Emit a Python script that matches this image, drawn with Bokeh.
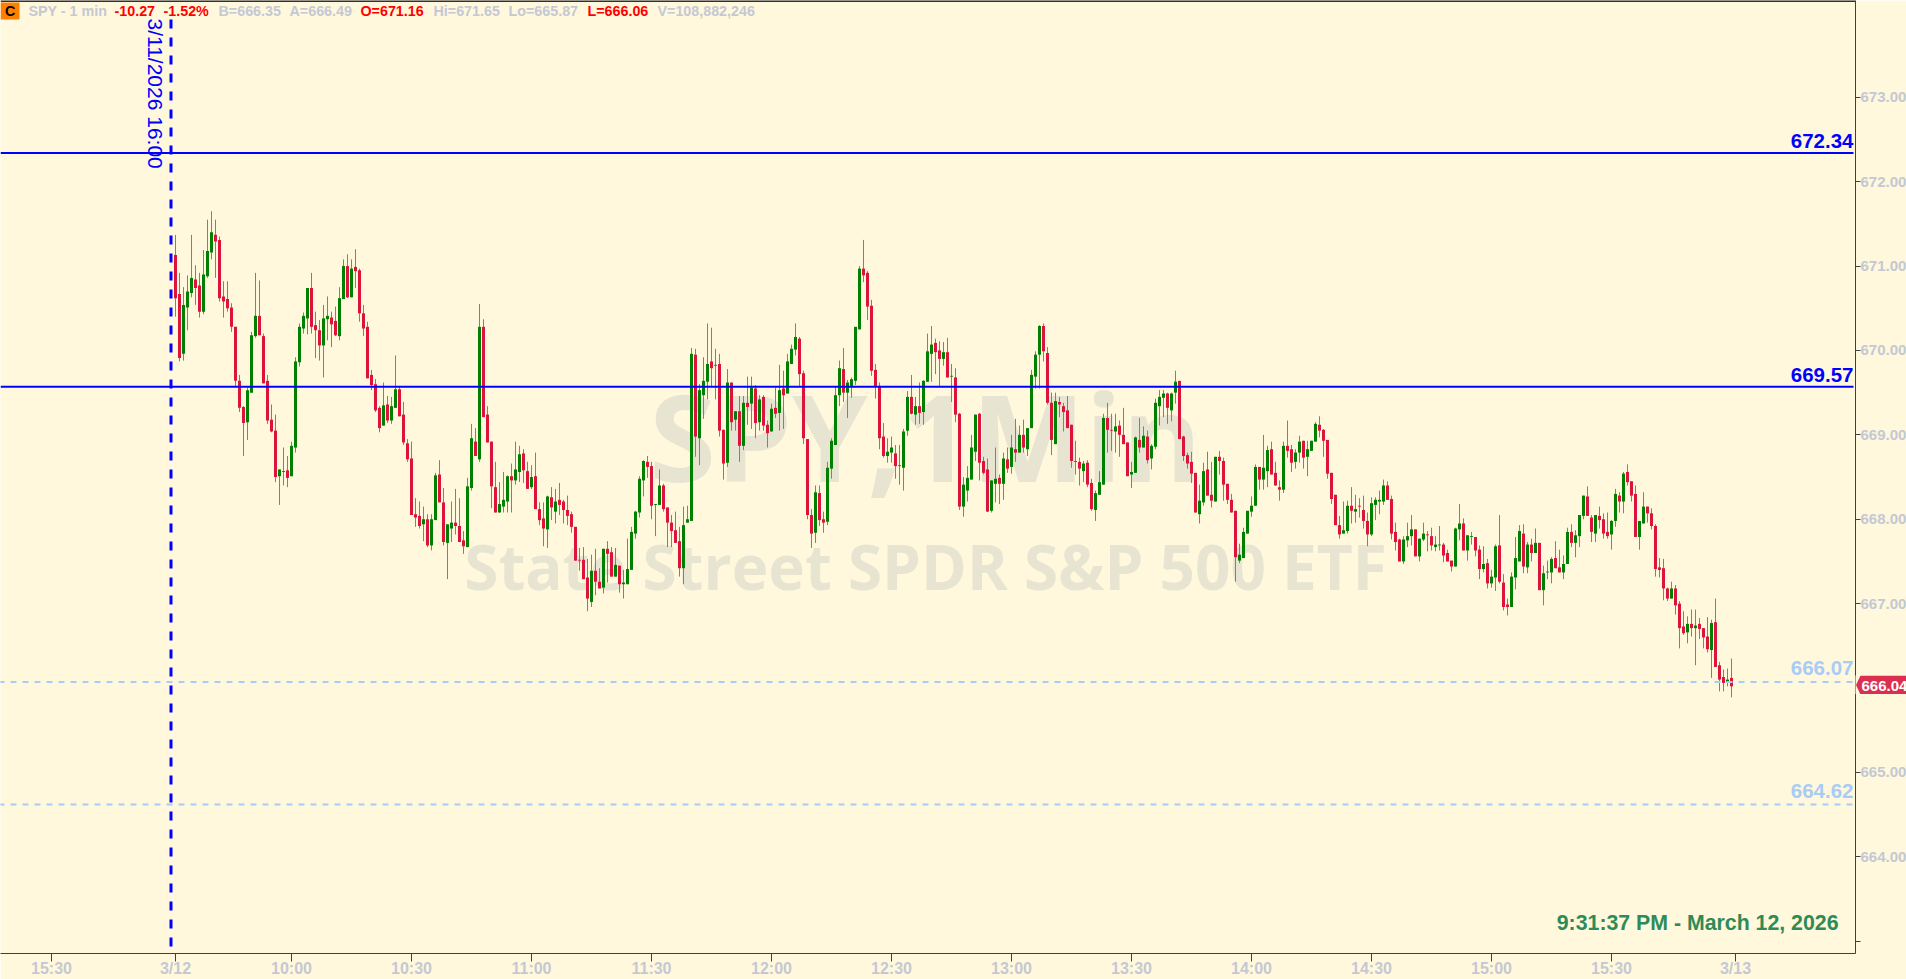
from math import pi
from bokeh.plotting import figure
from bokeh.layouts import column
from bokeh.core.properties import value
from bokeh.models import (ColumnDataSource, Range1d, FixedTicker, Label, BoxAnnotation, Span)
from bokeh.embed import file_html
from bokeh.resources import INLINE

# ---------- data ----------
opens = [
671.13,670.67,669.96,670.51,670.68,670.84,670.77,670.46,670.88,671.16,
671.37,671.31,670.64,670.61,670.51,670.28,669.64,669.33,669.15,669.50,
670.17,670.41,670.17,669.64,669.18,669.05,668.51,668.56,668.58,668.51,
668.85,669.86,670.26,670.38,670.74,670.30,670.24,670.06,670.37,670.39,
670.35,670.17,670.61,671.00,670.63,670.99,670.95,670.44,670.28,669.71,
669.60,669.32,669.11,669.36,669.17,669.32,669.54,669.24,668.90,668.72,
668.06,668.04,667.94,668.00,667.69,667.99,668.53,668.20,667.72,667.89,
667.96,667.92,667.75,667.67,668.37,668.92,668.71,670.28,669.24,668.92,
668.38,668.08,668.15,668.21,668.51,668.46,668.56,668.78,668.57,668.38,
668.51,668.12,668.01,667.88,668.26,668.09,668.23,668.21,668.11,668.06,
667.91,667.52,667.52,667.31,667.02,667.39,667.26,667.19,667.65,667.61,
667.32,667.45,667.23,667.23,667.40,667.83,668.08,668.46,668.68,668.63,
668.17,668.17,668.40,668.14,667.96,667.87,667.74,667.42,667.96,667.98,
669.95,668.96,669.47,669.63,669.87,669.82,669.84,669.06,668.67,669.62,
669.18,669.28,668.87,669.38,669.37,669.55,669.15,669.45,669.12,669.04,
669.32,669.26,669.55,669.49,669.84,670.01,670.14,669.73,668.95,668.05,
667.84,668.31,668.00,667.97,668.60,668.88,669.47,669.78,669.50,669.58,
669.64,670.25,670.97,670.92,670.53,669.77,669.58,668.98,668.75,668.79,
668.78,668.64,668.61,669.05,669.45,669.24,669.34,669.27,669.63,669.96,
670.09,670.00,669.90,669.98,669.69,669.68,669.25,668.15,668.34,668.47,
668.80,669.25,668.69,668.59,668.10,668.42,668.49,668.42,668.71,668.62,
668.83,668.79,669.00,668.83,669.08,669.69,669.95,670.29,669.97,669.38,
668.89,669.39,669.34,669.29,669.12,668.69,668.68,668.57,668.67,668.43,
668.11,668.29,668.41,669.20,669.06,669.04,669.11,669.00,668.91,668.53,
668.55,668.94,668.85,668.98,668.72,668.86,669.34,669.44,669.49,669.29,
669.50,669.64,668.98,668.76,668.68,668.55,668.06,668.20,668.59,668.29,
668.21,668.74,668.69,668.42,668.23,668.10,667.51,667.54,667.83,668.09,
668.16,668.62,668.47,668.57,668.83,668.55,668.38,668.35,668.87,668.83,
668.68,668.79,668.93,668.74,668.81,668.92,669.12,669.06,668.94,668.55,
668.29,667.93,667.83,667.86,668.16,668.09,668.16,668.11,667.98,667.82,
668.17,668.21,668.21,668.40,668.24,667.85,667.76,667.50,667.75,667.80,
667.88,667.56,667.76,667.82,667.80,667.67,667.69,667.70,667.60,667.51,
667.44,667.88,667.95,667.63,667.79,667.79,667.64,667.41,667.48,667.24,
667.31,667.69,667.25,666.99,666.96,667.31,667.50,667.83,667.43,667.70,
667.60,667.72,667.16,667.37,667.37,667.54,667.43,667.37,667.47,667.85,
667.72,667.80,668.04,668.27,668.02,667.83,668.04,668.00,667.85,667.82,
667.98,668.28,668.21,668.56,668.45,668.30,667.79,667.95,668.15,668.07,
667.92,667.43,667.42,667.18,667.06,667.18,667.00,666.73,666.66,666.76,
666.71,666.76,666.71,666.61,666.45,666.78,666.27,666.13,666.07,666.12]

highs = [
671.37,670.92,670.75,670.89,671.37,671.01,670.92,671.19,671.55,671.65,
671.55,671.35,670.82,670.82,670.56,670.28,669.71,669.34,669.56,670.22,
670.92,670.83,670.20,669.71,669.36,669.24,668.59,668.85,668.75,668.92,
669.92,670.32,670.45,670.74,670.92,670.46,670.36,670.54,670.64,670.46,
670.52,670.75,671.08,671.14,671.08,671.20,670.97,670.54,670.34,669.77,
669.66,669.34,669.62,669.46,669.45,669.94,669.58,669.39,668.95,668.92,
668.25,668.21,668.15,668.06,668.06,668.55,668.70,668.37,667.94,668.21,
668.36,668.25,667.86,668.49,669.13,669.08,670.55,670.37,669.34,668.92,
668.68,668.44,668.56,668.52,668.66,668.92,668.87,668.83,668.68,668.64,
668.79,668.20,668.20,668.28,668.38,668.36,668.43,668.23,668.28,668.09,
667.91,667.66,667.67,667.53,667.58,667.65,667.42,667.65,667.74,667.67,
667.66,667.45,667.40,667.77,667.91,668.10,668.51,668.70,668.75,668.68,
668.18,668.59,668.42,668.14,668.05,668.09,667.91,668.15,668.16,670.03,
670.02,669.60,669.92,670.32,670.27,670.02,669.96,669.06,669.78,669.62,
669.28,669.46,669.46,669.69,669.69,669.59,669.47,669.47,669.17,669.37,
669.56,669.83,669.76,669.96,670.07,670.32,670.16,669.76,668.95,668.12,
668.40,668.40,668.09,668.68,668.96,669.57,669.88,670.03,669.65,669.68,
670.28,671.00,671.31,670.94,670.60,669.84,669.62,669.14,668.96,668.98,
668.88,668.88,669.07,669.52,669.71,669.45,669.62,669.65,670.20,670.29,
670.14,670.11,670.10,670.15,669.84,669.79,669.26,668.50,668.63,669.00,
669.24,669.26,668.74,668.72,668.46,668.85,668.53,668.79,668.85,669.00,
669.19,669.11,669.18,669.08,669.77,669.99,670.30,670.32,670.04,669.50,
669.50,669.45,669.38,669.46,669.12,668.93,668.73,668.69,668.70,668.48,
668.34,668.57,669.25,669.38,669.25,669.25,669.17,669.32,668.91,668.68,
668.98,669.20,669.10,669.05,668.89,669.43,669.53,669.53,669.50,669.50,
669.76,669.64,668.99,668.79,668.80,668.55,668.41,668.67,668.80,668.68,
668.74,668.81,668.73,668.42,668.30,668.10,667.71,667.90,668.10,668.27,
668.65,668.62,669.00,668.87,668.92,668.68,668.46,668.92,669.17,668.88,
668.83,668.99,668.93,668.93,668.93,669.15,669.22,669.07,668.94,668.55,
668.29,668.04,668.21,668.22,668.38,668.29,668.25,668.28,668.08,668.26,
668.26,668.34,668.47,668.45,668.28,667.96,667.77,667.80,667.96,668.05,
667.88,667.77,667.96,667.86,667.90,667.80,667.92,667.72,667.64,667.51,
667.90,668.18,668.01,667.81,667.85,667.79,667.69,667.68,667.53,667.40,
667.70,668.05,667.35,667.06,667.37,667.79,667.93,667.94,667.73,667.77,
667.89,667.72,667.45,667.51,667.55,667.74,667.64,667.57,667.90,667.94,
667.87,668.05,668.28,668.39,668.05,668.05,668.15,668.07,668.08,667.99,
668.36,668.32,668.56,668.65,668.45,668.40,667.98,668.32,668.15,668.13,
667.94,667.54,667.53,667.19,667.26,667.22,667.03,666.91,666.85,666.93,
666.93,666.83,666.71,666.84,666.81,667.06,666.31,666.22,666.23,666.35]

lows = [
670.40,669.87,669.88,670.24,670.63,670.54,670.39,670.43,670.86,671.08,
670.86,670.58,670.39,670.46,670.22,669.58,669.27,668.75,668.94,669.50,
670.15,670.18,669.61,669.13,669.03,668.44,668.17,668.40,668.38,668.51,
668.79,669.81,670.20,670.19,670.20,669.91,669.88,669.68,670.12,670.04,
670.17,670.12,670.61,670.62,670.63,670.74,670.34,670.17,669.67,669.53,
669.27,669.03,669.11,669.14,669.13,669.32,669.22,668.88,668.68,668.05,
667.91,667.89,667.74,667.67,667.63,667.99,668.20,667.69,667.29,667.73,
667.82,667.73,667.59,667.67,668.34,668.75,668.68,669.21,668.91,668.13,
668.08,668.08,668.08,668.08,668.08,668.41,668.44,668.43,668.36,668.36,
668.12,667.93,667.68,667.66,667.99,667.95,668.05,667.95,667.93,667.84,
667.51,667.39,667.29,666.91,666.96,667.10,667.18,667.12,667.25,667.32,
667.32,667.13,667.06,667.23,667.40,667.77,668.02,668.27,668.49,668.00,
667.80,668.17,668.09,667.67,667.67,667.72,667.32,667.23,667.96,667.98,
668.74,668.64,669.19,669.42,669.57,669.42,668.98,668.47,668.62,669.05,
669.05,668.68,668.82,669.12,669.07,668.96,669.05,669.05,668.85,669.04,
669.20,669.05,669.07,669.49,669.84,669.94,669.58,668.89,668.00,667.66,
667.72,667.92,667.84,667.93,668.48,668.88,669.34,669.39,669.20,669.44,
669.59,670.25,670.81,670.36,669.70,669.43,668.83,668.73,668.67,668.67,
668.48,668.41,668.34,668.99,669.24,669.12,669.13,669.12,669.63,669.63,
669.72,669.58,669.82,669.68,669.39,669.15,668.11,668.03,668.21,668.47,
668.69,668.46,668.53,668.09,668.08,668.20,668.18,668.23,668.55,668.54,
668.68,668.79,668.79,668.75,669.08,669.55,669.55,669.87,669.36,668.76,
668.89,669.21,669.04,669.08,668.61,668.53,668.40,668.44,668.38,668.10,
667.98,668.29,668.41,668.79,668.81,668.79,668.74,668.89,668.51,668.37,
668.55,668.79,668.85,668.66,668.59,668.83,669.11,669.21,669.13,669.16,
669.37,668.95,668.69,668.60,668.43,668.08,667.95,668.16,668.28,668.14,
668.21,668.53,668.22,668.18,668.08,667.26,667.48,667.54,667.83,668.03,
668.16,668.35,668.35,668.38,668.53,668.40,668.22,668.31,668.73,668.56,
668.60,668.67,668.60,668.51,668.81,668.92,668.97,668.74,668.48,668.18,
667.93,667.77,667.83,667.83,667.95,667.96,668.02,667.89,667.68,667.80,
667.99,668.06,668.17,668.23,667.76,667.63,667.50,667.47,667.67,667.69,
667.56,667.50,667.74,667.62,667.63,667.62,667.63,667.49,667.50,667.38,
667.44,667.75,667.63,667.51,667.70,667.56,667.29,667.37,667.18,667.19,
667.15,667.24,666.92,666.86,666.96,667.17,667.50,667.36,667.36,667.50,
667.60,667.16,666.98,667.29,667.24,667.42,667.37,667.29,667.47,667.67,
667.55,667.67,668.00,668.04,667.73,667.73,667.89,667.77,667.77,667.64,
667.91,668.08,668.07,668.40,668.21,667.79,667.64,667.95,667.96,667.88,
667.32,667.31,667.04,667.03,667.06,666.87,666.47,666.63,666.53,666.61,
666.27,666.58,666.47,666.42,666.12,666.25,665.96,665.96,666.02,665.89]

closes = [
670.62,669.91,670.54,670.70,670.86,670.74,670.46,670.90,671.18,671.40,
671.29,670.62,670.58,670.50,670.28,669.64,669.32,669.14,669.53,670.18,
670.41,670.18,669.61,669.17,669.04,668.50,668.59,668.57,668.49,668.87,
669.87,670.28,670.41,670.74,670.28,670.24,670.06,670.38,670.41,670.31,
670.18,670.62,671.00,670.63,670.97,670.94,670.44,670.26,669.67,669.59,
669.29,669.08,669.35,669.17,669.34,669.54,669.22,668.91,668.71,668.05,
668.02,667.92,668.00,667.69,668.00,668.52,668.20,667.73,667.94,667.96,
667.92,667.73,667.68,668.39,668.96,668.75,670.28,669.21,668.91,668.39,
668.08,668.18,668.23,668.51,668.46,668.59,668.77,668.58,668.36,668.50,
668.12,667.99,667.89,668.27,668.14,668.21,668.17,668.11,668.04,667.91,
667.51,667.51,667.29,667.06,667.39,667.26,667.18,667.65,667.59,667.32,
667.46,667.23,667.25,667.41,667.85,668.09,668.48,668.69,668.62,668.16,
668.18,668.40,668.12,667.96,667.86,667.72,667.42,667.93,668.00,669.96,
668.98,669.53,669.64,669.84,669.79,669.83,669.05,668.66,669.62,669.15,
669.28,668.87,669.38,669.33,669.56,669.14,669.42,669.11,669.02,669.31,
669.25,669.53,669.47,669.87,670.02,670.16,669.72,668.96,668.05,667.83,
668.32,667.99,667.96,668.61,668.93,669.47,669.79,669.50,669.62,669.66,
670.28,670.97,670.89,670.52,669.76,669.57,668.96,668.75,668.80,668.85,
668.63,668.63,669.04,669.45,669.25,669.34,669.26,669.64,669.99,670.07,
669.98,669.90,669.98,669.68,669.70,669.24,668.15,668.41,668.49,668.85,
669.24,668.67,668.55,668.09,668.46,668.48,668.42,668.72,668.60,668.85,
668.79,669.00,668.85,669.08,669.71,669.95,670.29,669.99,669.38,668.94,
669.40,669.36,669.27,669.08,668.69,668.68,668.60,668.66,668.41,668.12,
668.31,668.44,669.20,669.06,669.05,669.10,669.00,668.89,668.51,668.56,
668.97,668.85,668.99,668.70,668.87,669.38,669.45,669.49,669.32,669.49,
669.63,668.95,668.75,668.66,668.54,668.08,668.22,668.57,668.28,668.22,
668.74,668.69,668.41,668.23,668.08,667.55,667.58,667.85,668.10,668.16,
668.62,668.47,668.61,668.82,668.53,668.40,668.35,668.87,668.81,668.67,
668.79,668.92,668.73,668.83,668.93,669.13,669.05,668.93,668.54,668.24,
667.93,667.82,667.87,668.16,668.10,668.12,668.15,667.98,667.82,668.19,
668.23,668.23,668.40,668.23,667.83,667.73,667.50,667.76,667.80,667.88,
667.56,667.77,667.83,667.81,667.69,667.70,667.70,667.57,667.50,667.44,
667.89,667.95,667.63,667.81,667.80,667.63,667.41,667.47,667.24,667.32,
667.68,667.26,666.96,666.96,667.32,667.54,667.86,667.44,667.70,667.60,
667.72,667.16,667.36,667.38,667.53,667.42,667.37,667.47,667.85,667.72,
667.81,668.05,668.28,668.04,667.85,668.05,667.99,667.83,667.80,667.98,
668.30,668.21,668.54,668.44,668.28,667.79,667.98,668.15,668.07,667.92,
667.41,667.40,667.18,667.06,667.18,666.98,666.71,666.65,666.76,666.71,
666.74,666.70,666.60,666.46,666.77,666.25,666.10,666.06,666.10,666.02]

time_ticks = [-31, 0, 29, 59, 89, 119, 149, 179, 209, 239, 269, 299, 329, 359, 390]
time_labels = ["15:30", "3/12", "10:00", "10:30", "11:00", "11:30", "12:00", "12:30",
               "13:00", "13:30", "14:00", "14:30", "15:00", "15:30", "3/13"]
price_ticks = [663, 664, 665, 666, 667, 668, 669, 670, 671, 672, 673]
price_labels = ["", "664.00", "665.00", "", "667.00", "668.00", "669.00", "670.00",
                "671.00", "672.00", "673.00"]
solid_levels = [672.34, 669.57]
dashed_levels = [666.07, 664.62]
last_price = 666.04

# ---------- layout ----------
FW, FH = 1855, 953
PX_PER_BAR, PX_PER_USD = 4.0, 84.39
X0 = -175.0 / PX_PER_BAR
Y_TOP = 673 + 96.8 / PX_PER_USD
def dx(px): return X0 + px / PX_PER_BAR
def dy(py): return Y_TOP - py / PX_PER_USD
X1, Y_BOT = dx(FW), dy(FH)

BG, GREY, LEVEL_LIGHT = "#fff8dc", "#c4c8d4", "#a8ccf6"
FONT = "Liberation Sans"

p = figure(frame_width=FW, frame_height=FH, output_backend="svg", toolbar_location=None,
           x_range=Range1d(X0, X1), y_range=Range1d(Y_BOT, Y_TOP), y_axis_location="right",
           background_fill_color=BG, border_fill_color=BG, outline_line_color=None,
           min_border=0)
p.grid.visible = False

ax = p.xaxis[0]
ax.ticker = FixedTicker(ticks=time_ticks)
ax.major_label_overrides = dict(zip(time_ticks, time_labels))
ay = p.yaxis[0]
ay.ticker = FixedTicker(ticks=price_ticks)
ay.major_label_overrides = dict(zip(price_ticks, price_labels))
for a, tick, size, standoff in ((ax, 8, "16px", -2), (ay, 5, "15px", 0)):
    a.axis_line_color = a.major_tick_line_color = "#404040"
    a.axis_line_width = 1
    a.major_tick_out, a.major_tick_in = tick, 0
    a.minor_tick_line_color = None
    a.major_label_text_font = FONT
    a.major_label_text_font_style = "bold"
    a.major_label_text_font_size = size
    a.major_label_text_color = GREY
    a.major_label_standoff = standoff

# ---------- watermark ----------
for text, size, base in (("SPY,1Min", "121px", 434), ("State Street SPDR S&P 500 ETF", "62px", 565)):
    p.add_layout(Label(x=dx(925), y=dy(base), text=text, text_font="Open Sans", text_font_style="bold",
                       text_font_size=size, text_color="#e8e4d2", text_align="center",
                       text_baseline="alphabetic", level="underlay"))

# ---------- candles ----------
idx = list(range(len(opens)))
src = ColumnDataSource(dict(
    x=idx, o=opens, h=highs, l=lows, c=closes,
    top=[max(a, b) for a, b in zip(opens, closes)],
    bottom=[min(a, b) for a, b in zip(opens, closes)],
    color=["#008000" if b >= a else "#dc143c" for a, b in zip(opens, closes)]))
p.segment("x", "h", "x", "l", source=src, line_color="#808080", line_width=1)
p.vbar("x", width=0.75, top="top", bottom="bottom", source=src, fill_color="color", line_color=None)

# ---------- levels ----------
for lv in solid_levels:
    p.segment([X0], [lv], [dx(1853)], [lv], line_color="#0000ff", line_width=2)
    p.add_layout(Label(x=dx(1853), y=lv, y_offset=12.2, text=f"{lv:.2f}", text_font=FONT, text_font_style="bold",
                       text_font_size="20.5px", text_color="#0000ff", text_align="right",
                       text_baseline="alphabetic"))
for lv in dashed_levels:
    p.segment([dx(-2)], [lv], [dx(1853)], [lv], line_color=LEVEL_LIGHT, line_width=2, line_dash="6 6")
    p.add_layout(Label(x=dx(1853), y=lv, y_offset=13.7, text=f"{lv:.2f}", text_font=FONT, text_font_style="bold",
                       text_font_size="20.5px", text_color=LEVEL_LIGHT, text_align="right",
                       text_baseline="alphabetic"))

p.segment([dx(170.5)], [dy(19)], [dx(170.5)], [Y_BOT], line_color="#0000ff", line_width=3, line_dash="9 9")
p.add_layout(Label(x=dx(155), y=dy(18), text="3/11/2026 16:00", text_font=FONT, text_font_size="21px",
                   text_color="#0000ff", angle=-pi / 2, text_align="left", text_baseline="alphabetic"))

# ---------- header ----------
p.add_layout(Span(location=dy(0.5), dimension="width", line_color="#303030", line_width=2))
p.add_layout(BoxAnnotation(left=dx(0), right=dx(19), top=dy(2), bottom=dy(19),
                           fill_color="#ff8000", fill_alpha=1, line_color=None))
header = [(4.5, "C", "#000000"), (28, "SPY - 1 min", GREY), (114, "-10.27", "#ff0000"), (163, "-1.52%", "#ff0000"),
          (218, "B=666.35", GREY), (289, "A=666.49", GREY), (360, "O=671.16", "#ff0000"),
          (433, "Hi=671.65", GREY), (508, "Lo=665.87", GREY), (587, "L=666.06", "#ff0000"),
          (657, "V=108,882,246", GREY)]
for xp, text, col in header:
    p.add_layout(Label(x=dx(xp), y=dy(10), text=text, text_font=FONT, text_font_style="bold",
                       text_font_size="14.3px", text_color=col, text_align="left", text_baseline="middle"))

p.add_layout(Label(x=dx(1838), y=dy(922), text="9:31:37 PM - March 12, 2026", text_font=FONT,
                   text_font_style="bold", text_font_size="21.3px", text_color="#2e8b57",
                   text_align="right", text_baseline="alphabetic"))

# ---------- last-price tag: a small figure laid over the axis panel ----------
tag = figure(frame_width=51, frame_height=19, output_backend="svg", toolbar_location=None,
             x_range=Range1d(0, 51), y_range=Range1d(0, 19), x_axis_type=None, y_axis_type=None,
             background_fill_color=BG, border_fill_color=BG, outline_line_color=None, min_border=0,
             margin=(-304, 0, 0, 1855))
tag.grid.visible = False
tag.patch([0.5, 5, 51, 51, 5], [9.5, 19, 19, 0, 0], fill_color="#dc2f4f", line_color=None)
tag.text([6], [9], text=[f"{last_price:.2f}"], text_font=value(FONT), text_font_style="bold",
         text_font_size="15px", text_color="white", text_align="left", text_baseline="middle")

open("out.html", "w").write(file_html(column(p, tag), INLINE))
